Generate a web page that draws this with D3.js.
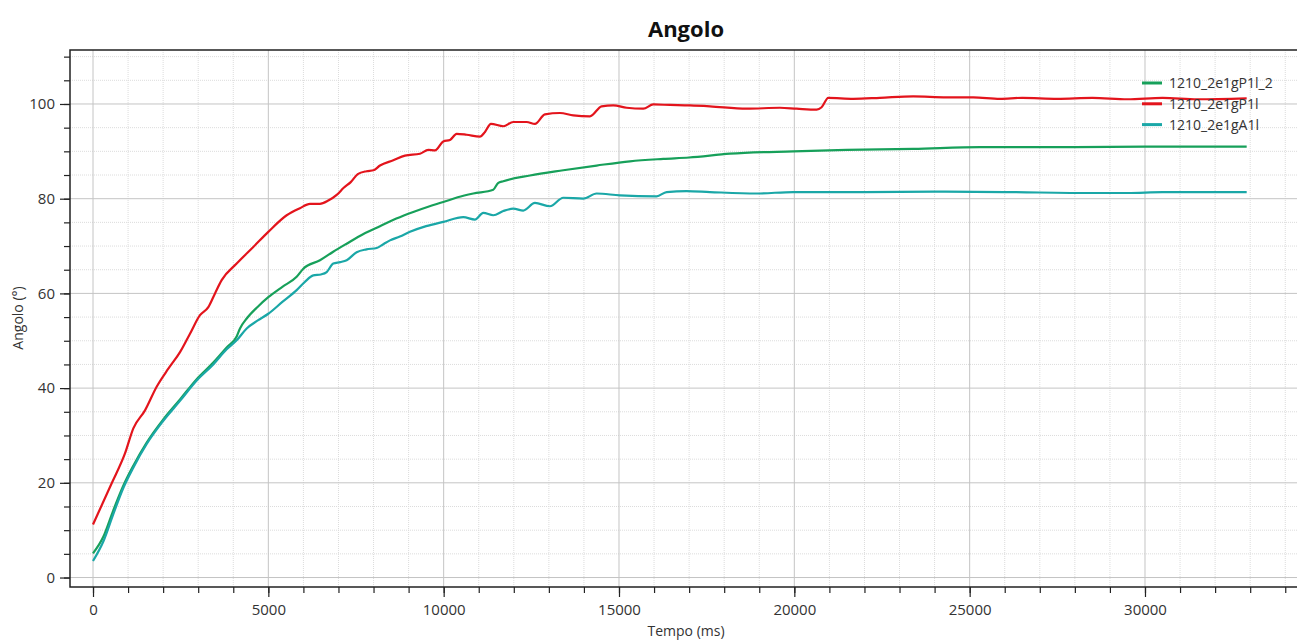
<!DOCTYPE html>
<html>
<head>
<meta charset="utf-8">
<script src="https://cdn.jsdelivr.net/npm/d3@7"></script>
<style>
  html, body { margin: 0; padding: 0; background: #fff; }
  svg { display: block; font-family: "Open Sans", "Noto Sans", sans-serif; }
</style>
</head>
<body>
<svg id="chart" width="1298" height="642"></svg>
<script>
// Series names shown in the legend
const seriesNames = ["1210_2e1gP1l_2", "1210_2e1gP1l", "1210_2e1gA1l"];
const seriesColors = ["#17a05a", "#e3141c", "#1aa7a7"];

// Angle samples [time ms, angle °] per series
const serieP1l2 = [
  [0, 5.1], [294, 8.6], [579, 14.2], [864, 19.4], [1149, 23.6], [1531, 28.5], [2005, 33.4],
  [2481, 37.6], [2957, 41.9], [3430, 45.4], [3812, 48.6], [4097, 50.9], [4192, 52.6],
  [4383, 54.7], [4700, 57.2], [4999, 59.2], [5400, 61.4], [5808, 63.5], [5997, 65.2],
  [6473, 67.0], [6850, 68.8], [7234, 70.5], [7700, 72.5], [8184, 74.2], [8650, 75.8],
  [9133, 77.2], [9560, 78.3], [9989, 79.3], [10400, 80.3], [10844, 81.1], [11415, 81.9],
  [11550, 83.3], [11700, 83.7], [12461, 84.9], [13411, 86.0], [14362, 87.0], [15312, 87.9],
  [16262, 88.4], [17000, 88.7], [18164, 89.5], [19969, 90.0], [21491, 90.3], [23391, 90.5],
  [25292, 90.9], [28000, 90.9], [30000, 91.0], [32900, 91.0]
];
const serieP1l = [
  [0, 11.2], [533, 19.9], [912, 26.2], [1150, 31.5], [1483, 35.3], [1815, 40.3], [2148, 44.1],
  [2481, 47.6], [2766, 51.5], [3051, 55.4], [3289, 57.1], [3479, 60.0], [3669, 62.8],
  [4097, 66.3], [4571, 69.8], [4999, 73.0], [5523, 76.5], [5900, 78.0], [6188, 78.9],
  [6473, 78.9], [6710, 79.6], [6950, 80.8], [7150, 82.3], [7350, 83.5], [7550, 85.2],
  [7800, 85.8], [8000, 86.0], [8184, 87.0], [8563, 88.1], [8897, 89.1], [9324, 89.5],
  [9562, 90.3], [9752, 90.2], [9990, 92.1], [10180, 92.4], [10370, 93.7], [10655, 93.5],
  [11035, 93.1], [11178, 94.1], [11349, 95.8], [11700, 95.3], [11985, 96.2], [12366, 96.2],
  [12603, 95.8], [12888, 97.8], [13316, 98.1], [13696, 97.6], [14172, 97.4], [14505, 99.5],
  [14837, 99.7], [15218, 99.2], [15692, 99.0], [15977, 99.9], [16453, 99.8], [17023, 99.7],
  [17594, 99.5], [18640, 99.0], [19589, 99.2], [20066, 99.0], [20636, 98.8], [20778, 99.3],
  [20968, 101.3], [21681, 101.1], [22441, 101.3], [23391, 101.6], [24342, 101.4],
  [25102, 101.4], [25863, 101.1], [26500, 101.3], [27500, 101.1], [28500, 101.3],
  [29500, 101.0], [30500, 101.3], [31500, 101.0], [32900, 101.2]
];
const serieA1l = [
  [0, 3.5], [294, 7.6], [579, 13.4], [864, 18.9], [1149, 23.2], [1531, 28.2], [2005, 33.1],
  [2481, 37.3], [2957, 41.6], [3430, 45.0], [3812, 48.2], [4097, 50.1], [4383, 52.6],
  [4700, 54.3], [4999, 55.7], [5400, 58.2], [5808, 60.7], [6050, 62.5], [6282, 63.8],
  [6500, 64.0], [6664, 64.5], [6852, 66.3], [7050, 66.6], [7234, 67.0], [7519, 68.7],
  [7800, 69.3], [8090, 69.6], [8300, 70.5], [8469, 71.2], [8750, 72.0], [9039, 73.0],
  [9500, 74.2], [9989, 75.1], [10559, 76.1], [10892, 75.6], [11130, 77.0], [11415, 76.5],
  [11700, 77.4], [11985, 77.9], [12270, 77.5], [12603, 79.1], [13031, 78.4], [13411, 80.2],
  [13981, 80.0], [14362, 81.1], [15027, 80.7], [16073, 80.5], [16358, 81.4], [16928, 81.6],
  [17594, 81.4], [18924, 81.1], [19969, 81.4], [22000, 81.4], [24000, 81.5], [26000, 81.4],
  [28500, 81.2], [29500, 81.2], [30500, 81.4], [32900, 81.4]
];

// Axis ticks
const xMajorTicks = [0, 5000, 10000, 15000, 20000, 25000, 30000];
const xMinorTicks = d3.range(0, 35000, 1000);
const yMajorTicks = [0, 20, 40, 60, 80, 100];
const yMinorTicks = d3.range(0, 115, 5);

const series = [serieP1l2, serieP1l, serieA1l];

const svg = d3.select("#chart");
const plot = { left: 70, top: 50, right: 1297, bottom: 587 };

const x = d3.scaleLinear().domain([-656, 34335]).range([plot.left, plot.right]);
const y = d3.scaleLinear().domain([-2, 111.4]).range([plot.bottom, plot.top]);

// Minor grid (dotted)
const grid = svg.append("g");
grid.selectAll("line.xm").data(xMinorTicks.filter(d => d % 5000 !== 0)).join("line")
  .attr("x1", d => x(d)).attr("x2", d => x(d))
  .attr("y1", plot.top).attr("y2", plot.bottom)
  .attr("stroke", "#dcdcdc").attr("stroke-dasharray", "1,1");
grid.selectAll("line.ym").data(yMinorTicks.filter(d => d % 20 !== 0)).join("line")
  .attr("y1", d => y(d)).attr("y2", d => y(d))
  .attr("x1", plot.left).attr("x2", plot.right)
  .attr("stroke", "#dcdcdc").attr("stroke-dasharray", "1,1");

// Major grid (solid)
grid.selectAll("line.xM").data(xMajorTicks).join("line")
  .attr("x1", d => x(d)).attr("x2", d => x(d))
  .attr("y1", plot.top).attr("y2", plot.bottom)
  .attr("stroke", "#c4c4c4");
grid.selectAll("line.yM").data(yMajorTicks).join("line")
  .attr("y1", d => y(d)).attr("y2", d => y(d))
  .attr("x1", plot.left).attr("x2", plot.right)
  .attr("stroke", "#c4c4c4");

// Axes
const xAxisMinor = d3.axisBottom(x).tickValues(xMinorTicks).tickSize(6).tickFormat("");
const xAxisMajor = d3.axisBottom(x).tickValues(xMajorTicks).tickSize(10).tickPadding(7)
  .tickFormat(d3.format("d"));
const yAxisMinor = d3.axisLeft(y).tickValues(yMinorTicks).tickSize(6).tickFormat("");
const yAxisMajor = d3.axisLeft(y).tickValues(yMajorTicks).tickSize(10).tickPadding(5)
  .tickFormat(d3.format("d"));

function styleAxis(g) {
  g.select(".domain").remove();
  g.selectAll("line").attr("stroke", "#222").attr("stroke-width", 1.2);
  g.selectAll("text").attr("fill", "#333").style("font-size", "15px")
    .style("font-family", "'Open Sans', sans-serif");
}
svg.append("g").attr("transform", `translate(0,${plot.bottom})`).call(xAxisMinor).call(styleAxis);
svg.append("g").attr("transform", `translate(0,${plot.bottom})`).call(xAxisMajor).call(styleAxis);
svg.append("g").attr("transform", `translate(${plot.left},0)`).call(yAxisMinor).call(styleAxis);
svg.append("g").attr("transform", `translate(${plot.left},0)`).call(yAxisMajor).call(styleAxis);

// Frame lines: left, bottom, top
svg.append("path")
  .attr("d", `M${plot.right},${plot.top}H${plot.left}V${plot.bottom}H${plot.right}`)
  .attr("fill", "none").attr("stroke", "#222").attr("stroke-width", 1.5);

// Data lines
const line = d3.line().x(d => x(d[0])).y(d => y(d[1])).curve(d3.curveMonotoneX);
svg.append("g").selectAll("path").data(series).join("path")
  .attr("d", line)
  .attr("fill", "none")
  .attr("stroke", (d, i) => seriesColors[i])
  .attr("stroke-width", 2.2)
  .attr("stroke-linejoin", "round");

// Title
svg.append("text").attr("x", 686).attr("y", 37).attr("text-anchor", "middle")
  .style("font-size", "22px").style("font-weight", "bold").attr("fill", "#111")
  .text("Angolo");

// Axis titles
svg.append("text").attr("x", 686).attr("y", 636).attr("text-anchor", "middle")
  .style("font-size", "14px").attr("fill", "#333").text("Tempo (ms)");
svg.append("text").attr("transform", "translate(23,318) rotate(-90)").attr("text-anchor", "middle")
  .style("font-size", "14px").attr("fill", "#333").text("Angolo (°)");

// Legend
const legend = svg.append("g");
const rows = legend.selectAll("g").data(seriesNames).join("g")
  .attr("transform", (d, i) => `translate(1142,${83 + i * 20.8})`);
rows.append("line").attr("x1", 0).attr("x2", 20).attr("y1", 0).attr("y2", 0)
  .attr("stroke", (d, i) => seriesColors[i]).attr("stroke-width", 3);
rows.append("text").attr("x", 27).attr("y", 5).style("font-size", "14px")
  .attr("fill", "#333").text(d => d);
</script>
</body>
</html>
